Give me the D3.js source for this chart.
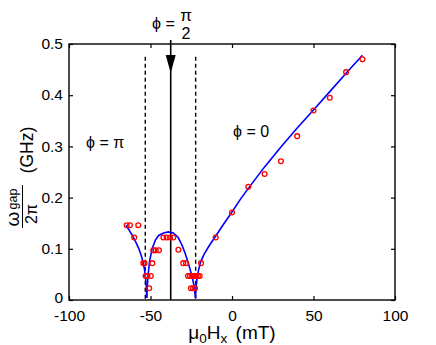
<!DOCTYPE html>
<html><head><meta charset="utf-8">
<script src="https://cdn.jsdelivr.net/npm/d3@7"></script>
<style>
body{margin:0;background:#fff}
svg{display:block}
text{font-family:"Liberation Sans",Arial,Helvetica,sans-serif;fill:#000}
</style>
</head><body>
<svg id="c" width="436" height="345"></svg>
<script>
// ---- data ----
const xTicks = [-100, -50, 0, 50, 100];
const yTicks = [0, 0.1, 0.2, 0.3, 0.4, 0.5];
const yTickLabels = ["0", "0.1", "0.2", "0.3", "0.4", "0.5"];
const xTickLabels = ["-100", "-50", "0", "50", "100"];

// measured gap (red circles)
const measField = [-64.6, -62.6, -57.5, -60.0, -54.4, -53.6, -48.9, -53.0, -51.9, -49.8, -50.8,
  -48.3, -46.8, -44.8, -42.1, -40.1, -38.0, -36.0, -32.9, -29.9, -28.2,
  -27.0, -25.8, -24.5, -23.3, -22.1, -20.9, -19.8, -25.2, -23.9, -22.7, -19.0,
  -10, 0, 10, 20, 30, 40, 50, 60, 70, 80];
const measGap = [0.146, 0.146, 0.146, 0.122, 0.072, 0.072, 0.072, 0.047, 0.047, 0.047, 0.023,
  0.097, 0.097, 0.097, 0.122, 0.122, 0.122, 0.122, 0.098, 0.072, 0.072,
  0.047, 0.047, 0.047, 0.047, 0.047, 0.047, 0.047, 0.023, 0.023, 0.023, 0.072,
  0.122, 0.171, 0.221, 0.246, 0.271, 0.320, 0.370, 0.395, 0.445, 0.470];

// theory curve (blue), three branches
const fitLeftField = [-65, -63, -61, -59, -57, -55.5, -54.5, -53.6, -53.0, -52.6, -52.3];
const fitLeftGap = [0.146, 0.136, 0.125, 0.113, 0.099, 0.085, 0.073, 0.058, 0.043, 0.027, 0.004];
const fitDomeField = [-52.3, -52.0, -51.5, -50.5, -49, -47, -45, -42, -39, -36, -33, -30.5, -28.5, -26.5, -24.5, -23.2, -22.4];
const fitDomeGap = [0.004, 0.025, 0.048, 0.077, 0.100, 0.117, 0.126, 0.131, 0.133, 0.131, 0.122, 0.106, 0.089, 0.069, 0.046, 0.026, 0.004];
const fitRightField = [-22.4, -22.1, -21.6, -20.7, -19.3, -17, -14, -10, -5, 0, 5, 10, 20, 30, 40, 50, 60, 70, 80];
const fitRightGap = [0.004, 0.022, 0.038, 0.056, 0.074, 0.090, 0.106, 0.125, 0.149, 0.172, 0.196, 0.218, 0.260, 0.299, 0.336, 0.371, 0.407, 0.443, 0.478];

// phase boundary markers
const dashedField = [-53.2, -22.3];
const solidField = -37.6;
const dashedTop = 0.475;
const solidTop = 0.508;

// ---- drawing ----
const svg = d3.select("#c");
const x = d3.scaleLinear().domain([-100, 100]).range([69, 395]);
const y = d3.scaleLinear().domain([0, 0.5]).range([300, 44]);

// axes (inward ticks on all sides)
const axB = svg.append("g").attr("transform", "translate(0,300)")
  .call(d3.axisBottom(x).tickValues(xTicks).tickFormat((d, i) => xTickLabels[i]).tickSizeInner(-4).tickSizeOuter(0).tickPadding(9.5));
const axT = svg.append("g").attr("transform", "translate(0,44)")
  .call(d3.axisTop(x).tickValues(xTicks).tickFormat("").tickSizeInner(-4).tickSizeOuter(0));
const axL = svg.append("g").attr("transform", "translate(69,0)")
  .call(d3.axisLeft(y).tickValues(yTicks).tickFormat((d, i) => yTickLabels[i]).tickSizeInner(-4).tickSizeOuter(0).tickPadding(6));
const axR = svg.append("g").attr("transform", "translate(395,0)")
  .call(d3.axisRight(y).tickValues(yTicks).tickFormat("").tickSizeInner(-4).tickSizeOuter(0));
[axB, axT, axL, axR].forEach(a => {
  a.select(".domain").remove();
  a.selectAll(".tick line").attr("stroke", "#000").attr("stroke-width", 1.2);
  a.selectAll("text").style("font-size", "15.5px").attr("fill", "#000")
    .style("font-family", '"Liberation Sans",Arial,sans-serif');
});
axL.selectAll("text").attr("dy", d => d === 0 ? "0.18em" : "0.3em");

// frame
svg.append("rect").attr("x", x(-100)).attr("y", y(0.5))
  .attr("width", x(100) - x(-100)).attr("height", y(0) - y(0.5))
  .attr("fill", "none").attr("stroke", "#000").attr("stroke-width", 1.4);

// dashed and solid boundary lines
svg.selectAll("line.dash").data(dashedField).enter().append("line")
  .attr("x1", d => x(d)).attr("x2", d => x(d))
  .attr("y1", y(dashedTop)).attr("y2", y(0))
  .attr("stroke", "#000").attr("stroke-width", 1.4).attr("stroke-dasharray", "4,3");
svg.append("line").attr("x1", x(solidField)).attr("x2", x(solidField))
  .attr("y1", y(solidTop)).attr("y2", y(0))
  .attr("stroke", "#000").attr("stroke-width", 1.6);
// arrow head
const ax = x(solidField);
svg.append("path")
  .attr("d", `M${ax - 5},${55} L${ax + 5},${55} L${ax},${73} Z`)
  .attr("fill", "#000");

// theory curves
const line = d3.line().x(d => x(d[0])).y(d => y(d[1]));
[[fitLeftField, fitLeftGap], [fitDomeField, fitDomeGap], [fitRightField, fitRightGap]].forEach(([f, g]) => {
  svg.append("path").datum(f.map((v, i) => [v, g[i]]))
    .attr("d", line).attr("fill", "none").attr("stroke", "#0000ff").attr("stroke-width", 1.6);
});

// measured points
svg.selectAll("circle.m").data(measField.map((v, i) => [v, measGap[i]])).enter()
  .append("circle")
  .attr("cx", d => x(d[0])).attr("cy", d => y(d[1])).attr("r", 2.4)
  .attr("fill", "none").attr("stroke", "#ff0000").attr("stroke-width", 1.3);

// annotations
svg.append("text").attr("x", 152).attr("y", 29).style("font-size", "16px").text("ϕ =");
svg.append("text").attr("x", 186).attr("y", 21).attr("text-anchor", "middle").style("font-size", "17px").text("π");
svg.append("text").attr("x", 186).attr("y", 39).attr("text-anchor", "middle").style("font-size", "16px").text("2");

svg.append("text").attr("x", 86).attr("y", 148).style("font-size", "16px").text("ϕ = π");
svg.append("text").attr("x", 233).attr("y", 137).style("font-size", "16px").text("ϕ = 0");

// x axis label
const xl = svg.append("text").attr("x", 232).attr("y", 339).attr("text-anchor", "middle").style("font-size", "19px");
xl.append("tspan").text("μ");
xl.append("tspan").attr("dy", 4).style("font-size", "13.5px").text("0");
xl.append("tspan").attr("dy", -4).text("H");
xl.append("tspan").attr("dy", 4).style("font-size", "13.5px").text("x");
xl.append("tspan").attr("dy", -4).attr("dx", 3).text(" (mT)");

// y axis label
svg.append("text").attr("transform", "translate(33,150) rotate(-90)").attr("text-anchor", "middle")
  .style("font-size", "17.5px").text("(GHz)");
svg.append("text").attr("transform", "translate(18.5,219) rotate(-90)").attr("text-anchor", "middle")
  .style("font-size", "19px").text("ω");
svg.append("text").attr("transform", "translate(17,199) rotate(-90)").attr("text-anchor", "middle")
  .style("font-size", "12.5px").text("gap");
svg.append("line").attr("x1", 22.5).attr("x2", 22.5).attr("y1", 185).attr("y2", 228)
  .attr("stroke", "#000").attr("stroke-width", 1);
svg.append("text").attr("transform", "translate(37,214) rotate(-90)").attr("text-anchor", "middle")
  .style("font-size", "16px").text("2π");
</script>
</body></html>
